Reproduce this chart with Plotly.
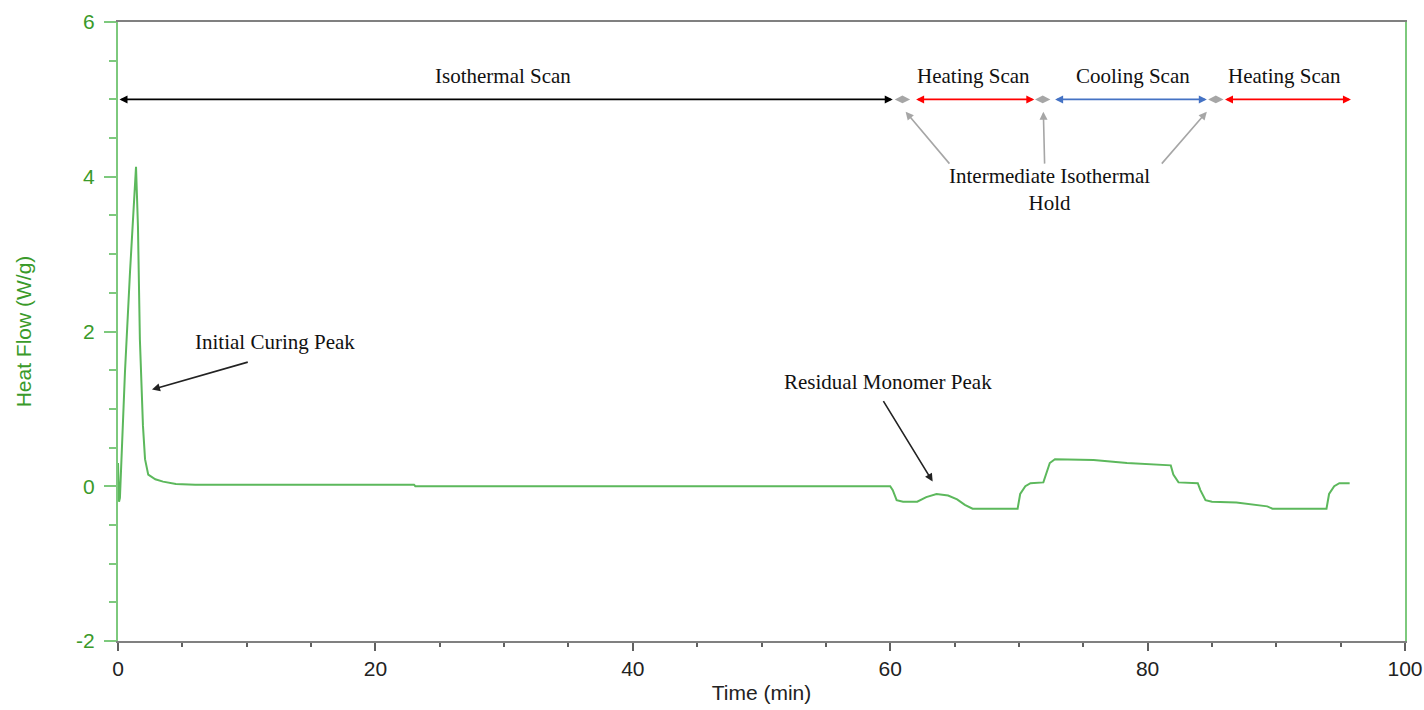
import plotly.graph_objects as go

# ---- data ----
time_min = [0.0, 0.08, 0.15, 0.54, 0.93, 1.17, 1.4, 1.55, 1.7, 1.94, 2.1, 2.35, 2.9, 3.5, 4.5, 6.0,
            23.0, 23.1, 60.0, 60.2, 60.5, 61.0, 62.1, 62.8, 63.6, 64.5, 65.2, 65.8, 66.4, 69.9,
            70.1, 70.5, 70.9, 71.9, 72.1, 72.4, 72.8, 75.8, 78.4, 81.0, 81.8, 82.0, 82.4, 83.9,
            84.1, 84.5, 85.0, 86.9, 89.3, 89.7, 93.9, 94.1, 94.5, 94.9, 95.7]
heat_flow = [0.3, -0.2, -0.15, 1.47, 2.76, 3.49, 4.13, 3.36, 1.9, 0.78, 0.35, 0.15, 0.09, 0.06, 0.03, 0.02,
             0.02, 0.0, 0.0, -0.05, -0.18, -0.2, -0.2, -0.14, -0.1, -0.12, -0.17, -0.24, -0.29, -0.29,
             -0.1, 0.0, 0.04, 0.05, 0.15, 0.3, 0.35, 0.34, 0.3, 0.27, 0.27, 0.15, 0.05, 0.04,
             -0.05, -0.18, -0.2, -0.21, -0.26, -0.29, -0.29, -0.1, 0.0, 0.04, 0.04]

y_tickvals = [-2, 0, 2, 4, 6]
y_ticktext = ["-2", "0", "2", "4", "6"]
x_tickvals = [0, 20, 40, 60, 80, 100]
x_ticktext = ["0", "20", "40", "60", "80", "100"]

# phase segments
phase_labels = ["Isothermal Scan", "Heating Scan", "Cooling Scan", "Heating Scan"]
phase_start = [0.0, 61.9, 72.7, 85.9]
phase_end = [60.2, 71.2, 84.6, 95.8]
phase_text_x = [29.9, 66.5, 78.9, 90.6]
phase_colors = ["#000000", "#ff0000", "#4472c4", "#ff0000"]
phase_y = 5.0
hold_x = [60.95, 71.85, 85.3]

fig = go.Figure()
fig.add_trace(go.Scatter(x=time_min, y=heat_flow, mode="lines",
                         line=dict(color="#5cb85c", width=2), showlegend=False))
fig.add_trace(go.Scatter(x=hold_x, y=[phase_y] * len(hold_x), mode="markers",
                         marker=dict(symbol="diamond-wide", size=11, color="#a6a6a6"),
                         showlegend=False))

serif = dict(family="Liberation Serif, Times New Roman, serif", size=21, color="#111111")
ann = []
for lab, s, e, tx, c in zip(phase_labels, phase_start, phase_end, phase_text_x, phase_colors):
    ann.append(dict(x=e, y=phase_y, ax=s, ay=phase_y, xref="x", yref="y", axref="x", ayref="y",
                    text="", showarrow=True, arrowhead=2, arrowside="end+start", arrowsize=1,
                    arrowwidth=1.6, arrowcolor=c, standoff=0, startstandoff=0))
    ann.append(dict(x=tx, y=5.3, xref="x", yref="y", text=lab, showarrow=False, font=serif))

# gray arrows to intermediate isothermal holds
hold_tail_x = [64.7, 72.0, 81.0]
hold_head_x = [61.2, 71.9, 84.6]
for tx, hx in zip(hold_tail_x, hold_head_x):
    ann.append(dict(x=hx, y=4.84, ax=tx, ay=4.15, xref="x", yref="y", axref="x", ayref="y",
                    text="", showarrow=True, arrowhead=2, arrowsize=1, arrowwidth=1.6,
                    arrowcolor="#a6a6a6", standoff=0))
ann.append(dict(x=72.4, y=3.84, xref="x", yref="y", text="Intermediate Isothermal<br>Hold",
                showarrow=False, font=serif))

# peak annotations
ann.append(dict(x=12.2, y=1.86, xref="x", yref="y", text="Initial Curing Peak", showarrow=False, font=serif))
ann.append(dict(x=2.64, y=1.25, ax=10.2, ay=1.61, xref="x", yref="y", axref="x", ayref="y",
                text="", showarrow=True, arrowhead=2, arrowsize=1, arrowwidth=1.6,
                arrowcolor="#222222", standoff=0))
ann.append(dict(x=59.8, y=1.35, xref="x", yref="y", text="Residual Monomer Peak", showarrow=False, font=serif))
ann.append(dict(x=63.3, y=0.06, ax=59.4, ay=1.12, xref="x", yref="y", axref="x", ayref="y",
                text="", showarrow=True, arrowhead=2, arrowsize=1, arrowwidth=1.6,
                arrowcolor="#222222", standoff=0))

sans = "Liberation Sans, Arial, sans-serif"
fig.update_layout(
    width=1424, height=710,
    margin=dict(l=118, r=19, t=22, b=69),
    paper_bgcolor="white", plot_bgcolor="white",
    annotations=ann,
    xaxis=dict(range=[0, 100], tickvals=x_tickvals, ticktext=x_ticktext, automargin=False,
               showgrid=False, zeroline=False, showline=True, linecolor="#808080", linewidth=2,
               mirror=True, ticks="outside", ticklen=8, tickwidth=1.5, tickcolor="#606060",
               minor=dict(dtick=5, ticks="outside", ticklen=4, tickwidth=1.5, tickcolor="#606060"),
               tickfont=dict(family=sans, size=21, color="#222222"),
               title=dict(text="Time (min)", font=dict(family=sans, size=21, color="#222222"), standoff=6)),
    yaxis=dict(range=[-2, 6], tickvals=y_tickvals, ticktext=y_ticktext, automargin=False,
               showgrid=False, zeroline=False, showline=True, linecolor="#7dc97d", linewidth=2,
               mirror=True, ticks="outside", ticklen=12, tickwidth=2, tickcolor="#7dc97d",
               ticklabelstandoff=5,
               minor=dict(dtick=0.5, ticks="outside", ticklen=7, tickwidth=2, tickcolor="#7dc97d"),
               tickfont=dict(family=sans, size=21, color="#3a9a2a"),
               title=dict(text="Heat Flow (W/g)", font=dict(family=sans, size=21, color="#3a9a2a"), standoff=39)),
)

fig.write_html("out.html")
